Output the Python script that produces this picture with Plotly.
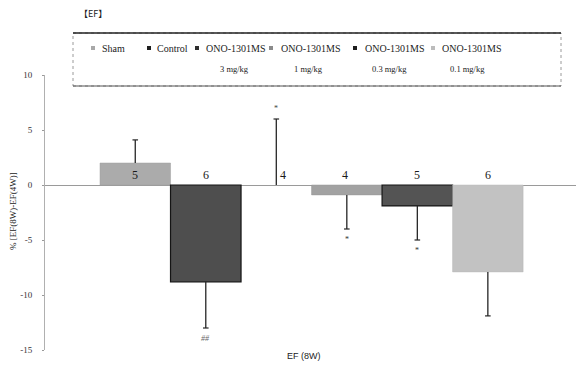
import plotly.graph_objects as go

# ---------------- data ----------------
groups = ["Sham", "Control", "ONO-1301MS 3 mg/kg", "ONO-1301MS 1 mg/kg",
          "ONO-1301MS 0.3 mg/kg", "ONO-1301MS 0.1 mg/kg"]
legend_line1 = ["Sham", "Control", "ONO-1301MS", "ONO-1301MS", "ONO-1301MS", "ONO-1301MS"]
legend_line2 = ["", "", "3 mg/kg", "1 mg/kg", "0.3 mg/kg", "0.1 mg/kg"]
values = [2.0, -8.8, 0.0, -0.9, -1.9, -7.9]
err_plus = [2.1, 0.0, 6.0, 0.0, 0.0, 0.0]
err_minus = [0.0, 4.2, 0.0, 3.1, 3.1, 4.0]
n_counts = ["5", "6", "4", "4", "5", "6"]
sig_marks = ["", "##", "*", "*", "*", ""]
y_ticks = [-15, -10, -5, 0, 5, 10]

# ---------------- styles ----------------
bar_colors = ["#ababab", "#4e4e4e", "#3a3a3a", "#a2a2a2", "#545454", "#c2c2c2"]
edge_colors = ["#a0a0a0", "#151515", "rgba(0,0,0,0)", "#969696", "#151515", "#b8b8b8"]
edge_widths = [0.5, 1.2, 0, 0.5, 1.2, 0.5]
legend_marker_colors = ["#a8a8a8", "#1e1e1e", "#2e2e2e", "#8a8a8a", "#1e1e1e", "#bcbcbc"]
n_label_xshift = [0, 0, 7, -2, 0, 0]

# layout geometry (pixels)
W, H = 576, 367
L, R, T, B = 45, 0, 75, 17
PW, PH = W - L - R, H - T - B
XR = [-1.28, 6.25]
YR = [-15, 10]

def px_x(px):
    return (px - L) / PW

def px_y(py):
    return (H - B - py) / PH

SERIF = "Liberation Serif, Times New Roman, serif"
SANS = "Liberation Sans, Arial, sans-serif"

fig = go.Figure()
for i, name in enumerate(groups):
    fig.add_trace(go.Bar(
        x=[i], y=[values[i]], width=1.0, name=name, showlegend=False,
        marker=dict(color=bar_colors[i], line=dict(color=edge_colors[i], width=edge_widths[i])),
    ))

# one-sided error bars (from bar end outward)
ex, ey, cx, cy = [], [], [], []
for i, v in enumerate(values):
    end = v + err_plus[i] if err_plus[i] > 0 else v - err_minus[i]
    ex += [i, i, None]
    ey += [v, end, None]
    cx.append(i)
    cy.append(end)
fig.add_trace(go.Scatter(x=ex, y=ey, mode="lines", showlegend=False, hoverinfo="skip",
                         line=dict(color="#252525", width=1.3)))
fig.add_trace(go.Scatter(x=cx, y=cy, mode="markers", showlegend=False, hoverinfo="skip",
                         marker=dict(symbol="line-ew", size=4,
                                     line=dict(color="#252525", width=1.2))))

annotations = []
# n labels just above zero line
for i, n in enumerate(n_counts):
    annotations.append(dict(x=i, y=0, xref="x", yref="y", text=n, showarrow=False,
                            yanchor="bottom", yshift=1, xshift=n_label_xshift[i],
                            font=dict(family=SERIF, size=12, color="#1a1a1a")))
# significance marks
for i, s in enumerate(sig_marks):
    if not s:
        continue
    if values[i] >= 0:
        yv = values[i] + err_plus[i]
        annotations.append(dict(x=i, y=yv, text=s, showarrow=False, yanchor="bottom",
                                yshift=4, font=dict(family=SERIF, size=8, color="#444")))
    else:
        yv = values[i] - err_minus[i]
        annotations.append(dict(x=i, y=yv, text="<i>" + s + "</i>" if s == "##" else s,
                                showarrow=False, yanchor="top", yshift=-4,
                                font=dict(family=SERIF, size=8,
                                          color="#666" if s == "##" else "#333")))

# titles
annotations.append(dict(xref="paper", yref="paper", x=px_x(50), y=px_y(14), text="【EF】",
                        showarrow=False, xanchor="left", yanchor="middle", xshift=27,
                        font=dict(family="Noto Sans CJK JP", size=9, color="#222")))
annotations.append(dict(xref="paper", yref="paper", x=px_x(304), y=px_y(356), text="EF (8W)",
                        showarrow=False, xanchor="center", yanchor="middle",
                        font=dict(family=SANS, size=9, color="#222")))
annotations.append(dict(xref="paper", yref="paper", x=px_x(13), y=px_y(211),
                        text="% [EF(8W)-EF(4W)]", textangle=-90, showarrow=False,
                        xanchor="center", yanchor="middle",
                        font=dict(family=SERIF, size=9, color="#222")))

# manual legend
shapes = []
box = (73, 33, 561, 86)
shapes.append(dict(type="rect", xref="paper", yref="paper",
                   x0=px_x(box[0]), x1=px_x(box[2]), y0=px_y(box[3]), y1=px_y(box[1]),
                   line=dict(color="#9a9a9a", width=1, dash="dot"), fillcolor="white", layer="below"))
shapes.append(dict(type="line", xref="paper", yref="paper",
                   x0=px_x(box[0]), x1=px_x(box[2]), y0=px_y(box[1]), y1=px_y(box[1]),
                   line=dict(color="#222", width=1.3)))
shapes.append(dict(type="line", xref="paper", yref="paper",
                   x0=px_x(box[0]), x1=px_x(box[2]), y0=px_y(box[3]), y1=px_y(box[3]),
                   line=dict(color="#555", width=1)))

marker_px = [93, 149, 197, 271, 355, 433]
text_px = [100, 155, 204, 279, 363, 440]
line2_px = [0, 0, 234, 308, 389, 467]
row1_y, row2_y = 48, 69
for i in range(len(groups)):
    mx = marker_px[i]
    shapes.append(dict(type="rect", xref="paper", yref="paper",
                       x0=px_x(mx - 2), x1=px_x(mx + 2), y0=px_y(row1_y + 2), y1=px_y(row1_y - 2),
                       line=dict(width=0), fillcolor=legend_marker_colors[i]))
    annotations.append(dict(xref="paper", yref="paper", x=px_x(text_px[i]), y=px_y(row1_y),
                            text=legend_line1[i], showarrow=False, xanchor="left", yanchor="middle",
                            font=dict(family=SERIF, size=10, color="#222")))
    if legend_line2[i]:
        annotations.append(dict(xref="paper", yref="paper", x=px_x(line2_px[i]), y=px_y(row2_y),
                                text=legend_line2[i], showarrow=False, xanchor="center",
                                yanchor="middle", font=dict(family=SERIF, size=8.5, color="#222")))

fig.update_layout(
    width=W, height=H, margin=dict(l=L, r=R, t=T, b=B, pad=0),
    paper_bgcolor="white", plot_bgcolor="white",
    barmode="overlay", showlegend=False,
    annotations=annotations, shapes=shapes,
    xaxis=dict(range=XR, showticklabels=False, showgrid=False, zeroline=False,
               showline=False, ticks=""),
    yaxis=dict(range=YR, tickvals=y_ticks, ticktext=[str(v) for v in y_ticks],
               showgrid=False, zeroline=True, zerolinecolor="#9a9a9a", zerolinewidth=1,
               showline=True, linecolor="#b0b0b0", linewidth=1,
               ticks="outside", ticklen=2, tickcolor="#999", ticklabelstandoff=8,
               tickfont=dict(family=SERIF, size=9, color="#333")),
)

fig.write_html("out.html")
